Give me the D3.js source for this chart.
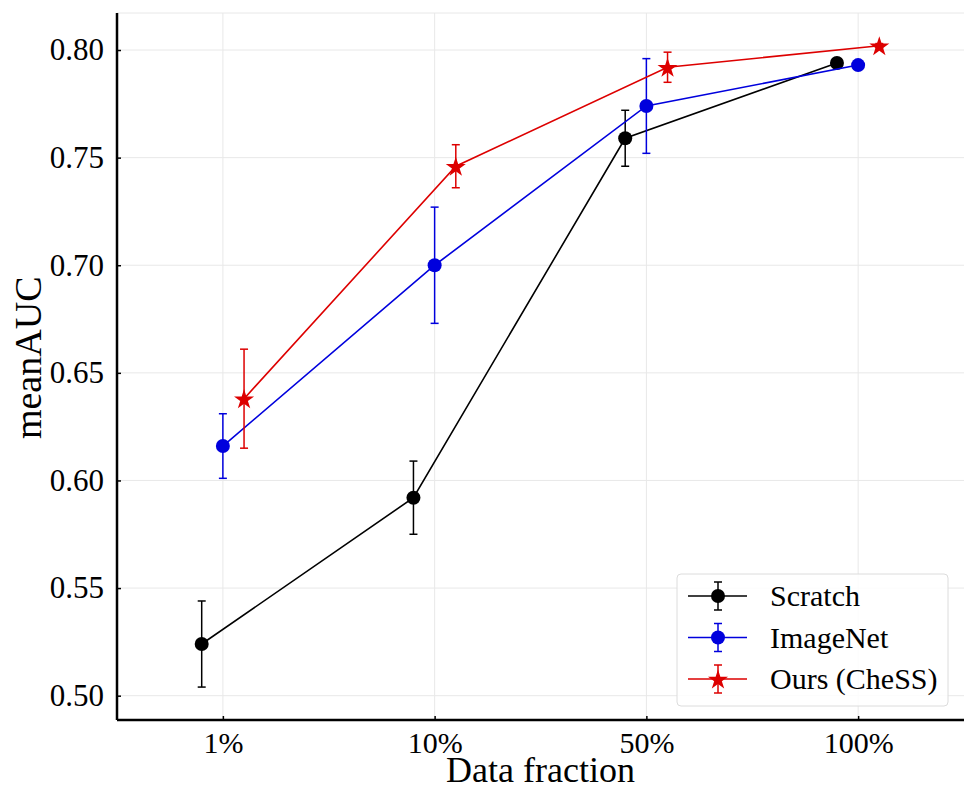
<!DOCTYPE html>
<html>
<head>
<meta charset="utf-8">
<script src="https://cdn.jsdelivr.net/npm/d3@7"></script>
<style>
html,body{margin:0;padding:0;background:#fff;}
svg{display:block;}
</style>
</head>
<body>
<svg id="chart" width="964" height="790"></svg>
<script>
const categories = ["1%", "10%", "50%", "100%"];
const yTicks = [0.50, 0.55, 0.60, 0.65, 0.70, 0.75, 0.80];
const seriesNames = ["Scratch", "ImageNet", "Ours (CheSS)"];
const scratchMean = [0.524, 0.592, 0.759, 0.794];
const scratchErr  = [0.020, 0.017, 0.013, 0.001];
const imagenetMean = [0.616, 0.700, 0.774, 0.793];
const imagenetErr  = [0.015, 0.027, 0.022, 0.001];
const oursMean = [0.638, 0.746, 0.792, 0.802];
const oursErr  = [0.023, 0.010, 0.007, 0.001];

const series = [
  {name: seriesNames[0], mean: scratchMean, err: scratchErr, color: "#000000", marker: "circle", offset: -0.1},
  {name: seriesNames[1], mean: imagenetMean, err: imagenetErr, color: "#0000dd", marker: "circle", offset: 0},
  {name: seriesNames[2], mean: oursMean, err: oursErr, color: "#dd0000", marker: "star", offset: 0.1}
];

const svg = d3.select("#chart");
const pL = 117, pR = 964, pT = 13, pB = 720;
const x = d3.scaleLinear().domain([-0.5, 3.5]).range([pL, pR]);
const y = d3.scaleLinear().domain([0.4887, 0.8172]).range([pB, pT]);
const font = "'Liberation Serif','Times New Roman',serif";

// grid
const grid = svg.append("g");
grid.selectAll("line.h").data(yTicks).join("line")
  .attr("class","h")
  .attr("x1", pL).attr("x2", pR)
  .attr("y1", d => y(d)).attr("y2", d => y(d))
  .attr("stroke", "#e8e8e8").attr("stroke-width", 1);
grid.selectAll("line.v").data(categories).join("line")
  .attr("class","v")
  .attr("x1", (d,i) => x(i)).attr("x2", (d,i) => x(i))
  .attr("y1", pT).attr("y2", pB)
  .attr("stroke", "#e8e8e8").attr("stroke-width", 1);
grid.append("line").attr("x1", pL).attr("x2", pR).attr("y1", pT).attr("y2", pT)
  .attr("stroke", "#e8e8e8").attr("stroke-width", 1);

// axes
const yAxis = d3.axisLeft(y).tickValues(yTicks).tickFormat(d3.format(".2f")).tickSizeInner(-4).tickSizeOuter(0).tickPadding(13);
const gy = svg.append("g").attr("transform", `translate(${pL},0)`).call(yAxis);
gy.select(".domain").attr("d", `M0,${pT}V${pB}`).attr("stroke", "#000").attr("stroke-width", 2.5);
gy.selectAll(".tick line").attr("stroke", "#000").attr("stroke-width", 1.5);
gy.selectAll(".tick text").attr("font-family", font).attr("font-size", 31).attr("fill", "#000");

const xAxis = d3.axisBottom(x).tickValues(d3.range(categories.length)).tickFormat(i => categories[i]).tickSizeInner(-4).tickSizeOuter(0).tickPadding(12);
const gx = svg.append("g").attr("transform", `translate(0,${pB})`).call(xAxis);
gx.select(".domain").attr("d", `M${pL},0H${pR}`).attr("stroke", "#000").attr("stroke-width", 2.5);
gx.selectAll(".tick line").attr("stroke", "#000").attr("stroke-width", 1.5);
gx.selectAll(".tick text").attr("font-family", font).attr("font-size", 30).attr("fill", "#000");

// axis titles
svg.append("text").attr("x", x(1.5)).attr("y", 782).attr("text-anchor", "middle")
  .attr("font-family", font).attr("font-size", 36).attr("fill", "#000").text("Data fraction");
svg.append("text").attr("transform", `translate(41,${y(0.657)}) rotate(-90)`).attr("text-anchor", "middle")
  .attr("font-family", font).attr("font-size", 38).attr("fill", "#000").text("meanAUC");

const star = d3.symbol().type(d3.symbolStar);
function drawMarker(g, s, cx, cy) {
  if (s.marker === "circle") {
    g.append("circle").attr("cx", cx).attr("cy", cy).attr("r", 7).attr("fill", s.color);
  } else {
    g.append("path").attr("d", star.size(125)()).attr("transform", `translate(${cx},${cy + 1})`).attr("fill", s.color);
  }
}

const line = d3.line().x(d => x(d.i + d.o)).y(d => y(d.v));
series.forEach(s => {
  const g = svg.append("g");
  const pts = s.mean.map((v, i) => ({i, v, o: s.offset, e: s.err[i]}));
  g.append("path").datum(pts).attr("d", line).attr("fill", "none").attr("stroke", s.color).attr("stroke-width", 1.6);
  pts.forEach(p => {
    const cx = x(p.i + p.o);
    g.append("line").attr("x1", cx).attr("x2", cx).attr("y1", y(p.v - p.e)).attr("y2", y(p.v + p.e))
      .attr("stroke", s.color).attr("stroke-width", 1.5);
    [p.v - p.e, p.v + p.e].forEach(v => {
      g.append("line").attr("x1", cx - 4).attr("x2", cx + 4).attr("y1", y(v)).attr("y2", y(v))
        .attr("stroke", s.color).attr("stroke-width", 1.5);
    });
    drawMarker(g, s, cx, y(p.v));
  });
});

// legend
const lg = svg.append("g");
lg.append("rect").attr("x", 677).attr("y", 574).attr("width", 271).attr("height", 132).attr("rx", 4)
  .attr("fill", "#fff").attr("fill-opacity", 0.85).attr("stroke", "#dcdcdc").attr("stroke-width", 1);
series.forEach((s, k) => {
  const ly = 596 + k * 41.5;
  lg.append("line").attr("x1", 688).attr("x2", 747).attr("y1", ly).attr("y2", ly).attr("stroke", s.color).attr("stroke-width", 1.6);
  lg.append("line").attr("x1", 718).attr("x2", 718).attr("y1", ly - 14).attr("y2", ly + 14).attr("stroke", s.color).attr("stroke-width", 1.5);
  [ly - 14, ly + 14].forEach(yy => lg.append("line").attr("x1", 714).attr("x2", 722).attr("y1", yy).attr("y2", yy).attr("stroke", s.color).attr("stroke-width", 1.5));
  drawMarker(lg, s, 718, ly);
  lg.append("text").attr("x", 770).attr("y", ly + 10).attr("font-family", font).attr("font-size", 30).attr("fill", "#000").text(s.name);
});
</script>
</body>
</html>
